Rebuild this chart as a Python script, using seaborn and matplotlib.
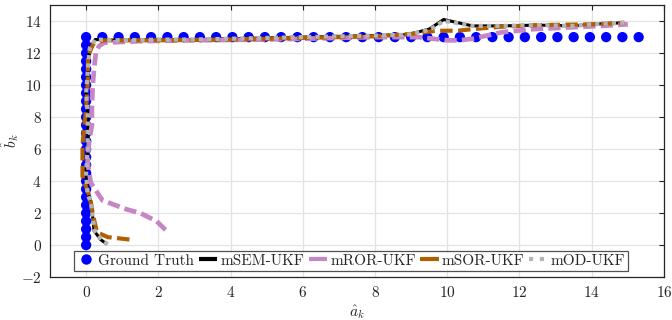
import numpy as np
import pandas as pd
import matplotlib
matplotlib.use("Agg")
import matplotlib.pyplot as plt
from matplotlib.lines import Line2D
import seaborn as sns

sns.set_style("white")
plt.rcParams["font.family"] = "serif"
plt.rcParams["font.serif"] = ["cmr10", "DejaVu Serif"]
plt.rcParams["mathtext.fontset"] = "cm"
plt.rcParams["axes.formatter.use_mathtext"] = True
plt.rcParams["axes.unicode_minus"] = False

# Ground-truth trajectory: vertical leg along a=0, then horizontal leg at b=13
gt_a_vert = [0.0] * 27
gt_b_vert = [0.0, 0.5, 1.0, 1.5, 2.0, 2.5, 3.0, 3.5, 4.0, 4.5, 5.0, 5.5, 6.0, 6.5,
             7.0, 7.5, 8.0, 8.5, 9.0, 9.5, 10.0, 10.5, 11.0, 11.5, 12.0, 12.5, 13.0]
gt_a_horz = [0.45, 0.9, 1.35, 1.8, 2.25, 2.7, 3.15, 3.6, 4.05, 4.5, 4.95, 5.4, 5.85,
             6.3, 6.75, 7.2, 7.65, 8.1, 8.55, 9.0, 9.45, 9.9, 10.35, 10.8, 11.25,
             11.7, 12.15, 12.6, 13.05, 13.5, 13.95, 14.4, 14.85, 15.3]
gt_b_horz = [13.0] * 34

# Filter estimates
msem_a = [0.58, 0.4, 0.22, 0.18, 0.15, 0.05, 0.0, 0.05, 0.05, 0.0, 0.05, 0.1, 0.25,
          1.0, 2.0, 3.0, 4.0, 5.0, 6.0, 7.0, 8.0, 8.9, 9.5, 9.9, 10.1, 10.7, 11.5,
          12.5, 13.5, 14.0, 14.9]
msem_b = [0.05, 0.35, 0.9, 1.8, 2.6, 3.2, 4.5, 6.0, 8.0, 9.5, 11.0, 12.3, 12.85,
          12.8, 12.85, 12.85, 12.9, 12.95, 13.0, 13.05, 13.1, 13.15, 13.5, 14.1, 14.0,
          13.7, 13.7, 13.75, 13.7, 13.8, 13.9]

mror_a = [2.2, 1.95, 1.5, 1.1, 0.45, 0.13, 0.04, 0.08, 0.16, 0.16, 0.18, 0.22, 0.27,
          0.36, 0.5, 1.5, 3.0, 5.0, 7.0, 8.0, 9.2, 10.0, 10.35, 10.7, 11.5, 12.4,
          13.3, 14.25, 15.0]
mror_b = [0.95, 1.5, 2.0, 2.25, 2.8, 3.9, 5.2, 6.4, 7.5, 8.5, 9.9, 11.0, 12.0,
          12.45, 12.65, 12.75, 12.8, 12.85, 12.95, 13.0, 13.0, 12.8, 12.8, 12.9,
          13.3, 13.5, 13.6, 13.7, 13.8]

msor_a = [1.2, 0.6, 0.3, 0.2, 0.1, -0.1, -0.1, 0.0, 0.05, 0.05, 0.2, 0.5, 2.0, 4.0,
          6.0, 8.0, 9.0, 9.7, 10.3, 10.7, 11.5, 12.5, 14.0, 14.9]
msor_b = [0.35, 0.5, 0.8, 1.8, 3.0, 4.3, 6.3, 8.5, 10.5, 11.8, 12.6, 12.8, 12.8,
          12.85, 12.95, 13.05, 13.2, 13.4, 13.4, 13.5, 13.65, 13.75, 13.8, 13.9]

mod_a = [0.6, 0.42, 0.24, 0.18, 0.14, 0.04, 0.0, 0.04, 0.05, 0.0, 0.05, 0.1, 0.25,
         1.0, 2.0, 3.0, 4.0, 5.0, 6.0, 7.0, 8.0, 8.9, 9.5, 9.9, 10.1, 10.7, 11.5,
         12.5, 13.5, 14.0, 14.9]
mod_b = [0.05, 0.35, 0.9, 1.8, 2.6, 3.2, 4.5, 6.0, 8.0, 9.5, 11.0, 12.3, 12.85,
         12.8, 12.85, 12.85, 12.9, 12.95, 13.0, 13.05, 13.1, 13.15, 13.45, 14.0, 13.95,
         13.7, 13.7, 13.75, 13.7, 13.8, 13.9]

gt = pd.DataFrame({"a": gt_a_vert + gt_a_horz, "b": gt_b_vert + gt_b_horz})

fig = plt.figure(figsize=(6.72, 3.2), dpi=100)
ax = fig.add_axes([0.0744, 0.134, 0.9136, 0.85])

sns.scatterplot(data=gt, x="a", y="b", ax=ax, color="#0000FF", s=55,
                edgecolor="none", label="Ground Truth", zorder=2)

series = [
    ("mSEM-UKF", msem_a, msem_b, dict(color="black", lw=2.2, ls="-")),
    ("mROR-UKF", mror_a, mror_b, dict(color="#C686C6", lw=3.4, ls=(0, (2.6, 1.1)))),
    ("mSOR-UKF", msor_a, msor_b, dict(color="#B06000", lw=3.0, ls=(0, (3.0, 1.3)))),
    ("mOD-UKF", mod_a, mod_b, dict(color="#B4B4B4", lw=3.0, ls=(0, (1, 1)))),
]
for name, a, b, st in series:
    df = pd.DataFrame({"a": a, "b": b})
    sns.lineplot(data=df, x="a", y="b", ax=ax, sort=False, estimator=None,
                 color=st["color"], lw=st["lw"], linestyle=st["ls"],
                 label=name, zorder=3)
for ln in ax.get_lines():
    ln.set_dash_capstyle("butt")
    ln.set_solid_capstyle("butt")

ax.set_xlim(-1, 16)
ax.set_ylim(-2, 15)
ax.set_xticks(np.arange(0, 17, 2))
ax.set_yticks(np.arange(-2, 15, 2))
ax.grid(True, color="#E3E3E3", lw=0.9)
ax.set_axisbelow(True)
for sp in ax.spines.values():
    sp.set_color("#262626")
    sp.set_linewidth(0.9)
ax.tick_params(direction="in", length=3.5, width=0.8, color="#262626",
               top=True, right=True, labelsize=11, labelcolor="#262626", pad=6)
ax.set_xlabel(r"$\hat{a}_k$", fontsize=11, color="#262626", labelpad=2)
ax.set_ylabel(r"$\hat{b}_k$", fontsize=11, color="#262626")
ax.yaxis.set_label_coords(-0.047, 0.5)

# Legend keys: the dashed estimates get short solid keys
labels = ["Ground Truth"] + [s[0] for s in series]
keys = [Line2D([], [], ls="none", marker="o", markersize=7.5,
               markerfacecolor="#0000FF", markeredgecolor="none")]
for name, a, b, st in series:
    if name == "mOD-UKF":
        keys.append(Line2D([], [], color=st["color"], lw=st["lw"],
                           linestyle=(0, (1, 1.6)), dash_capstyle="butt"))
    else:
        keys.append(Line2D([], [], color=st["color"], lw=3.0,
                           linestyle="solid", solid_capstyle="butt"))

leg = ax.legend(keys, labels, loc="lower center", bbox_to_anchor=(0.49, 0.018),
                ncol=5, fontsize=11, frameon=True, fancybox=False,
                handlelength=1.2, handletextpad=0.2, columnspacing=0.3,
                borderpad=0.2, borderaxespad=0.1)
leg.get_frame().set_edgecolor("#262626")
leg.get_frame().set_linewidth(0.9)

fig.savefig("out.png", dpi=100)
